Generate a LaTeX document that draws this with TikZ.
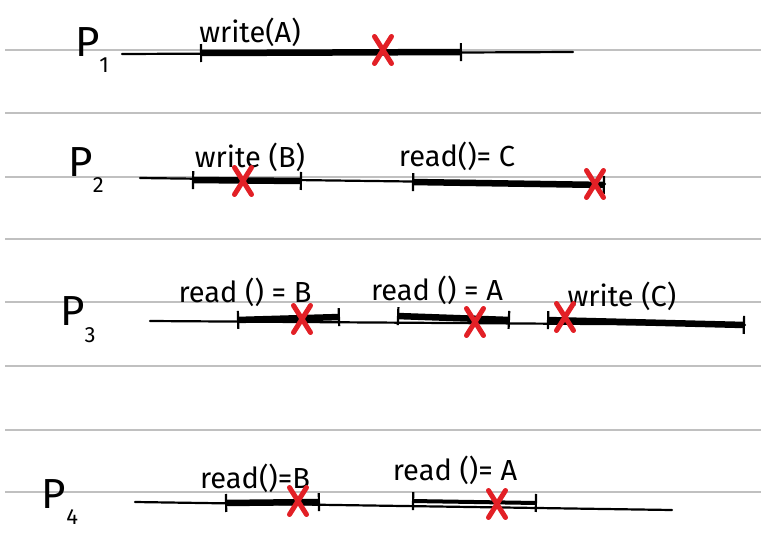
\documentclass[tikz,border=0pt]{standalone}
\usepackage{fontspec}
\setmainfont{Fira Sans}
\usetikzlibrary{arrows.meta,shapes.misc}
\definecolor{rulegrey}{RGB}{192,192,192}
\definecolor{markred}{RGB}{226,32,38}
\newcommand{\procname}[1]{P\raisebox{-0.4em}{\fontsize{22}{22}\selectfont #1}}

\begin{document}
\begin{tikzpicture}[x=1pt,y=-1pt,
  rule/.style={rulegrey, line width=1.1pt},
  idle/.style={line width=2.2pt, line cap=round},
  op/.style={line width=6.5pt, {Bar[width=18pt,line width=2.2pt]}-{Bar[width=18pt,line width=2.2pt]}},
  fail/.style={cross out, draw=markred, line width=5pt, line cap=round, minimum width=12pt, minimum height=22pt, inner sep=0pt},
  call/.style={font=\fontsize{29}{31}\selectfont},
  proc/.style={font=\fontsize{42}{44}\selectfont}]
  \useasboundingbox (0,0) rectangle (761,550);

  % ruled paper
  \foreach \y in {50,113,177,239,302,366,430,492}
    \draw[rule] (5,\y) -- (761,\y);

  % P1
  \node[proc] (p1) at (92,50) {\procname{1}};
  \draw[idle] (122,54) -- (573,52);
  \draw[op] (200,53) -- (462,52);
  \node[call] (w1) at (250,32) {write(A)};
  \node[fail] (x1) at (383,50) {};

  % P2
  \node[proc] (p2) at (86,170) {\procname{2}};
  \draw[idle] (140,178) -- (605,184);
  \draw[op] (192,180) -- (302,181);
  \draw[op] (412,182) -- (605,185);
  \node[call] (w2) at (250,157) {write (B)};
  \node[call] (r2) at (457,156) {read()= C};
  \node[fail] (x2a) at (243,181) {};
  \node[fail] (x2b) at (595,184) {};

  % P3
  \node[proc] (p3) at (78,320) {\procname{3}};
  \draw[idle] (150,321) -- (745,325);
  \draw[op] (237,320) -- (340,317);
  \draw[op] (397,316) -- (510,320);
  \draw[op] (547,320) -- (745,325);
  \node[call] (r3a) at (245,292) {read () = B};
  \node[call] (r3b) at (437,290) {read () = A};
  \node[call] (w3) at (622,296) {write (C)};
  \node[fail] (x3a) at (302,319) {};
  \node[fail] (x3b) at (475,322) {};
  \node[fail] (x3c) at (565,317) {};

  % P4
  \node[proc] (p4) at (60,502) {\procname{4}};
  \draw[idle] (135,502) -- (672,510);
  \draw[op] (225,503) -- (320,502);
  \draw[op, line width=4pt] (412,501) -- (537,503);
  \node[call] (r4a) at (255,478) {read()=B};
  \node[call] (r4b) at (455,470) {read ()= A};
  \node[fail] (x4a) at (298,501) {};
  \node[fail] (x4b) at (497,504) {};
\end{tikzpicture}
\end{document}
